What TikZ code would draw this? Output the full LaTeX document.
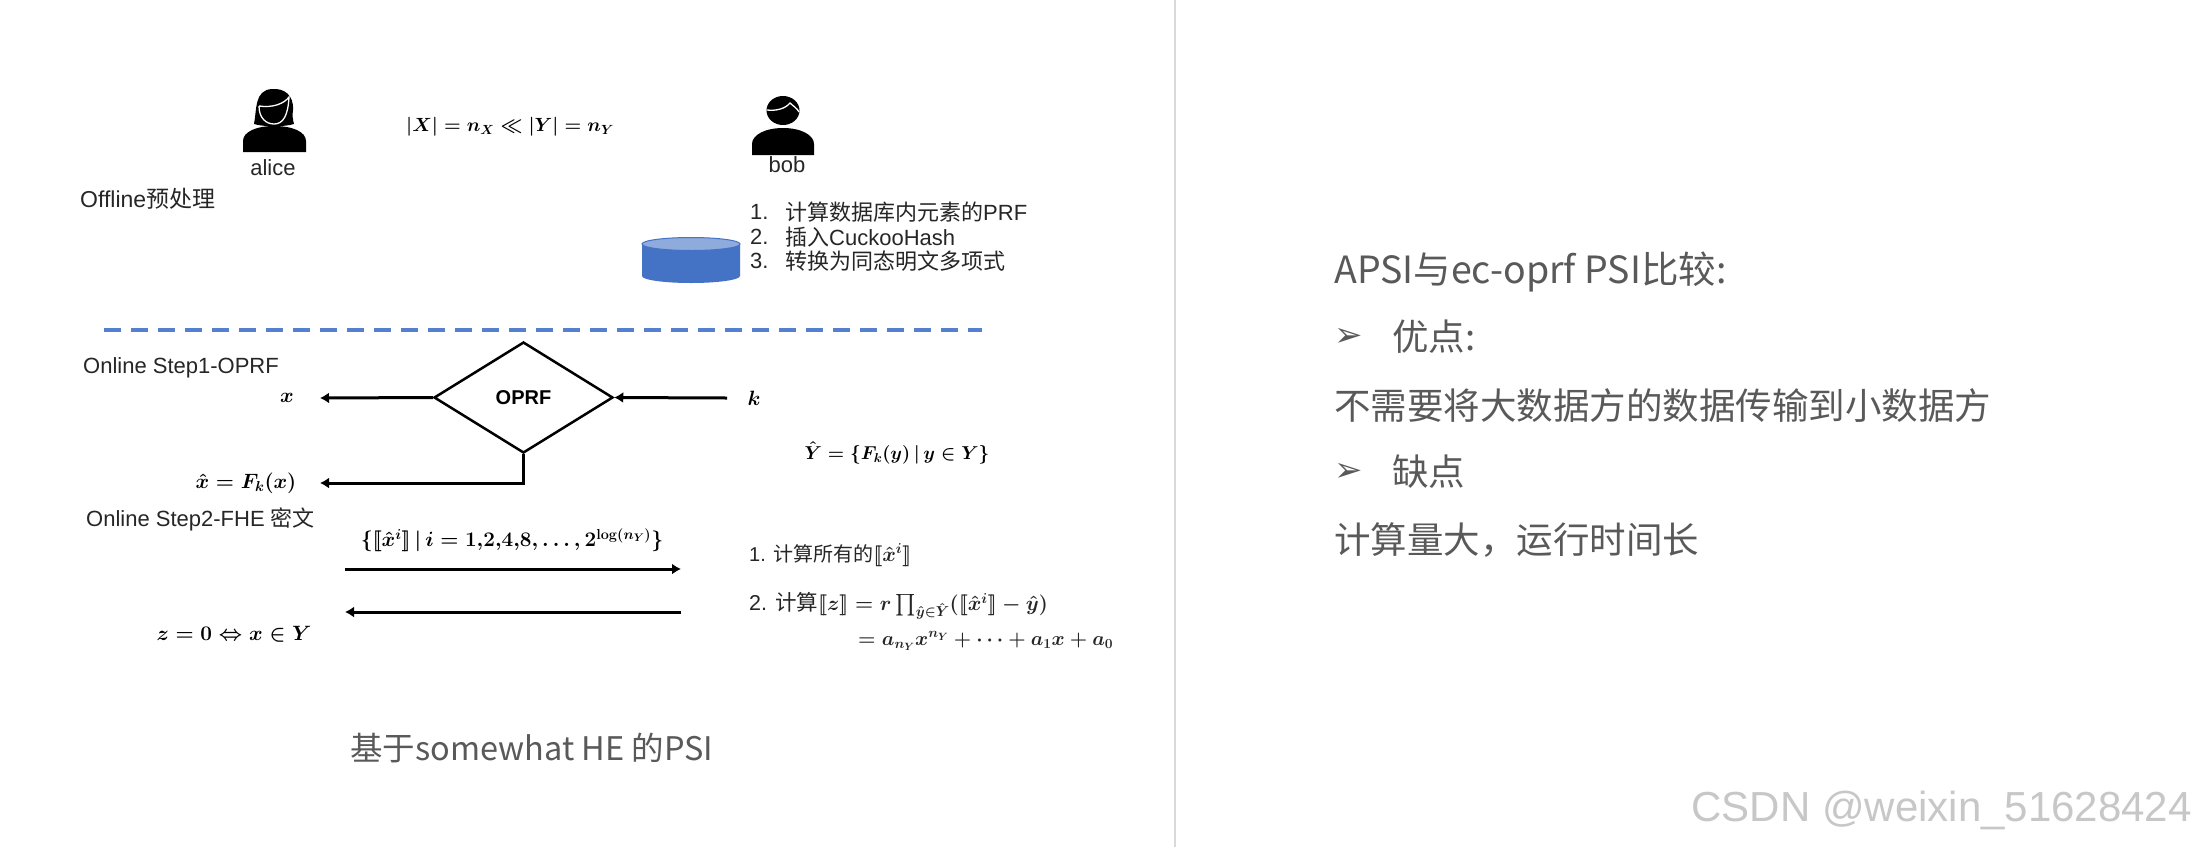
\documentclass[tikz,border=0pt]{standalone}
\usepackage{amsmath,amssymb}
\usepackage[no-math]{fontspec}
\setmainfont{Liberation Sans}
\newfontfamily\cjk{Noto Sans CJK SC}
\newfontfamily\dejavu{DejaVu Sans}
\usetikzlibrary{arrows.meta,shapes.geometric}
\newcommand{\fsz}[1]{\fontsize{#1}{#1}\selectfont}
\newcommand{\lb}{[\![}
\newcommand{\rb}{]\!]}
\definecolor{dashblue}{HTML}{4472C4}
\definecolor{sepblue}{HTML}{5580D0}
\definecolor{topblue}{HTML}{8FAADC}
\definecolor{slidegray}{HTML}{595959}
\tikzset{
  lefttext/.style={anchor=west,inner sep=0pt,font=\fsz{22},text=black!85},
  midtext/.style={inner sep=0pt,font=\fsz{22},text=black!85},
  mathtext/.style={inner sep=0pt,font=\boldmath\fsz{21}},
  righttext/.style={anchor=west,inner sep=0pt,font=\cjk\fsz{36.5},text=slidegray},
  bullettext/.style={anchor=west,inner sep=0pt,font=\dejavu\fsz{34},text=slidegray},
  thickarrow/.style={line width=3pt,-{Latex[length=9pt,width=11pt]}},
  person/.style={fill=black},
  facemark/.style={draw=white,line width=1.3pt}
}
\begin{document}
\begin{tikzpicture}[x=1pt,y=-1pt]
\useasboundingbox (0,0) rectangle (2197,847);
\fill[white] (0,0) rectangle (2197,847);
% divider
\coordinate (divtop) at (1175,0);
\coordinate (divbot) at (1175,847);
\draw[line width=2pt,black!15] (divtop) -- (divbot);
% alice
\fill[person] (254,124) .. controls (257,110) and (254,90) .. (272,89) .. controls (284,88) and (294,95) .. (293,110) .. controls (292,116) and (293,120) .. (294,124) .. controls (284,127) and (264,127) .. (254,124) -- cycle;
\draw[facemark] (259,106) .. controls (259,118) and (266,124) .. (274,124) .. controls (283,124) and (288,116) .. (289,97) .. controls (284,104) and (272,108) .. (259,106);
\fill[person] (243,152) -- (243,141) .. controls (243,132) and (256,126) .. (274,126) .. controls (293,126) and (306,132) .. (306,141) -- (306,152) -- cycle;
% bob
\fill[person] (783,110.5) ellipse [x radius=16.5pt,y radius=14.5pt];
\draw[facemark] (767,110) .. controls (776,111) and (785,109) .. (790,103) .. controls (793,106) and (797,108) .. (799,112);
\fill[person] (752,155) -- (752,144) .. controls (752,135) and (765,128) .. (783,128) .. controls (801,128) and (814,135) .. (814,144) -- (814,155) -- cycle;
\node[midtext] (alicelabel) at (273,168) {alice};
\node[midtext] (boblabel) at (787,165) {bob};
\node[mathtext,scale=0.92] (sizes) at (510,127) {$|X|=n_X\ll|Y|=n_Y$};
\node[lefttext,font=\fsz{23}] (offline) at (80,199) {Offline{\cjk 预处理}};
% database
\fill[dashblue] (642,245) -- (642,276) arc [start angle=180,end angle=360,x radius=49pt,y radius=7pt] -- (740,245) -- cycle;
\fill[topblue,draw=dashblue,line width=1pt] (691,244) ellipse [x radius=49pt,y radius=6.5pt];
\node[lefttext] (l1n) at (750,212) {1.};
\node[lefttext] (l1t) at (785,212) {\cjk 计算数据库内元素的\rmfamily PRF};
\node[lefttext] (l2n) at (750,237) {2.};
\node[lefttext] (l2t) at (785,237) {\cjk 插入\rmfamily CuckooHash};
\node[lefttext] (l3n) at (750,261) {3.};
\node[lefttext] (l3t) at (785,261) {\cjk 转换为同态明文多项式};
% separator
\coordinate (sepl) at (104,330);
\coordinate (sepr) at (982,330);
\draw[sepblue,line width=3.5pt,dash pattern=on 17pt off 10pt] (sepl) -- (sepr);
% step 1
\node[lefttext] (step1) at (83,368) {Online Step1-OPRF};
\node[draw,diamond,line width=2.5pt,minimum width=179pt,minimum height=111pt,inner sep=0pt,aspect=1.61,font=\bfseries\fsz{20}] (oprf) at (523.5,397.5) {OPRF};
\node[mathtext] (xlabel) at (287,398) {$x$};
\node[mathtext] (klabel) at (754,398) {$k$};
\coordinate (xtip) at (320,398);
\coordinate (kstart) at (727,398);
\coordinate (xhattip) at (320,483);
\draw[thickarrow] (oprf.west) -- (xtip);
\draw[thickarrow] (kstart) -- (oprf.east);
\draw[thickarrow] (oprf.south) |- (xhattip);
\node[mathtext] (xhat) at (246,483) {$\hat{x}=F_k(x)$};
\node[mathtext,scale=0.9] (yhat) at (897,453) {$\hat{Y}=\{F_k(y)\,|\,y\in Y\}$};
% step 2
\node[lefttext] (step2) at (86,519) {Online Step2-FHE {\cjk 密文}};
\node[mathtext] (setlabel) at (512,540) {$\{\lb\hat{x}^i\rb\,|\,i=1{,}2{,}4{,}8,\ldots,2^{\log(n_Y)}\}$};
\coordinate (a1l) at (345,569);
\coordinate (a1r) at (681,569);
\coordinate (a2l) at (345,612);
\coordinate (a2r) at (681,612);
\draw[thickarrow] (a1l) -- (a1r);
\draw[thickarrow] (a2r) -- (a2l);
\node[lefttext,font=\boldmath\fsz{20}] (c1) at (749,555) {1. {\cjk 计算所有的}$\lb\hat{x}^i\rb$};
\node[lefttext,font=\boldmath\fsz{21.5}] (c2) at (749,606) {2. {\cjk 计算}$\lb z\rb=r\prod_{\hat{y}\in\hat{Y}}(\lb\hat{x}^i\rb-\hat{y})$};
\node[lefttext,font=\boldmath\fsz{21},scale=0.96] (c3) at (858,641) {$=a_{n_Y}x^{n_Y}+\cdots+a_1x+a_0$};
\node[mathtext] (zzero) at (234,634) {$z=0\Leftrightarrow x\in Y$};
\node[anchor=west,inner sep=0pt,font=\cjk\fsz{32.5},text=slidegray] (caption) at (350,748) {基于somewhat HE 的PSI};
% right slide
\node[righttext,font=\cjk\fsz{37.5}] (r1) at (1334,272) {APSI与ec-oprf PSI比较:};
\node[bullettext] (b1) at (1334,337) {➢};
\node[righttext] (r2) at (1392,337) {优点:};
\node[righttext] (r3) at (1334,406) {不需要将大数据方的数据传输到小数据方};
\node[bullettext] (b2) at (1334,472) {➢};
\node[righttext] (r4) at (1392,472) {缺点};
\node[righttext] (r5) at (1334,540) {计算量大，运行时间长};
\node[anchor=east,inner sep=0pt,font=\fsz{42},text=black!22] (mark) at (2192,810) {CSDN @weixin\_51628424};
\end{tikzpicture}
\end{document}
